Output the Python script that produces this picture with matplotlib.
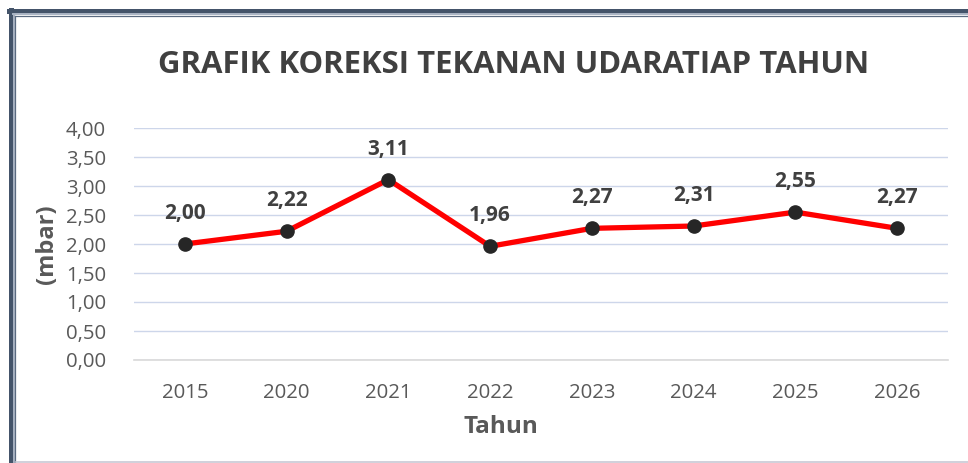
import matplotlib
matplotlib.use("Agg")
import matplotlib.pyplot as plt
from matplotlib.lines import Line2D

years = ["2015", "2020", "2021", "2022", "2023", "2024", "2025", "2026"]
values = [2.00, 2.22, 3.11, 1.96, 2.27, 2.31, 2.55, 2.27]
y_ticks = [0.0, 0.5, 1.0, 1.5, 2.0, 2.5, 3.0, 3.5, 4.0]
title = "GRAFIK KOREKSI TEKANAN UDARATIAP TAHUN"

W, H = 968, 463
fig = plt.figure(figsize=(W / 100, H / 100), dpi=100)
fig.patch.set_facecolor("white")

def fx(px):
    return px / W

def fy(py):
    return 1 - py / H

# Window-like frame (top and left)
fig.add_artist(Line2D([fx(10.5), fx(10.5)], [fy(10), 0], color="#44546a", lw=3.6, transform=fig.transFigure))
fig.add_artist(Line2D([fx(9), 1], [fy(10.5), fy(10.5)], color="#44546a", lw=3.6, transform=fig.transFigure))
fig.add_artist(Line2D([fx(13.7), fx(13.7)], [fy(13.5), 0], color="#aab4c4", lw=1.4, transform=fig.transFigure))
fig.add_artist(Line2D([fx(13), 1], [fy(13.7), fy(13.7)], color="#aab4c4", lw=1.4, transform=fig.transFigure))
fig.add_artist(Line2D([fx(15.5), fx(15.5)], [fy(15.5), 0], color="#5a6a80", lw=0.9, transform=fig.transFigure))
fig.add_artist(Line2D([fx(15), 1], [fy(15.5), fy(15.5)], color="#5a6a80", lw=0.9, transform=fig.transFigure))
fig.add_artist(Line2D([fx(16), 1], [fy(461.5), fy(461.5)], color="#c8c8d4", lw=1.2, transform=fig.transFigure))

ax = fig.add_axes([fx(134), fy(360), fx(948) - fx(134), (360 - 128) / H])
x = list(range(len(years)))
ax.set_xlim(-0.5, len(years) - 0.5)
ax.set_ylim(0, 4)
ax.set_yticks(y_ticks)
ax.set_yticklabels([f"{v:.2f}".replace(".", ",") for v in y_ticks])
ax.set_xticks(x)
ax.set_xticklabels(years)
ax.grid(axis="y", color="#cdd6ea", lw=1.0)
ax.set_axisbelow(True)
for s in ["top", "right", "left"]:
    ax.spines[s].set_visible(False)
ax.spines["bottom"].set_color("#d9d9d9")
ax.spines["bottom"].set_linewidth(1.2)
ax.tick_params(axis="both", length=0, labelsize=14.7, labelcolor="#595959")
ax.tick_params(axis="y", pad=20)
ax.tick_params(axis="x", pad=16.5)
for lab in ax.get_xticklabels() + ax.get_yticklabels():
    lab.set_family("Open Sans")

ax.plot(x, values, color="#ff0000", lw=3.8, marker="o", markersize=9.5,
        markerfacecolor="#262626", markeredgecolor="#262626", solid_capstyle="round", zorder=3)
for xi, v in zip(x, values):
    ax.annotate(f"{v:.2f}".replace(".", ","), (xi, v), xytext=(0, 22), textcoords="offset points",
                ha="center", va="center", fontsize=15, fontweight="bold", color="#404040", family="Open Sans")

fig.text(fx(514), fy(65), title, ha="center", va="center", fontsize=22.4, fontweight="bold",
         color="#404040", family="Open Sans")
fig.text(fx(47), fy(244), "(mbar)", ha="center", va="center", rotation=90, fontsize=17,
         fontweight="bold", color="#595959", family="Open Sans")
fig.text(fx(501), fy(427), "Tahun", ha="center", va="center", fontsize=17.5,
         fontweight="bold", color="#595959", family="Open Sans")

fig.savefig("out.png", dpi=100)
